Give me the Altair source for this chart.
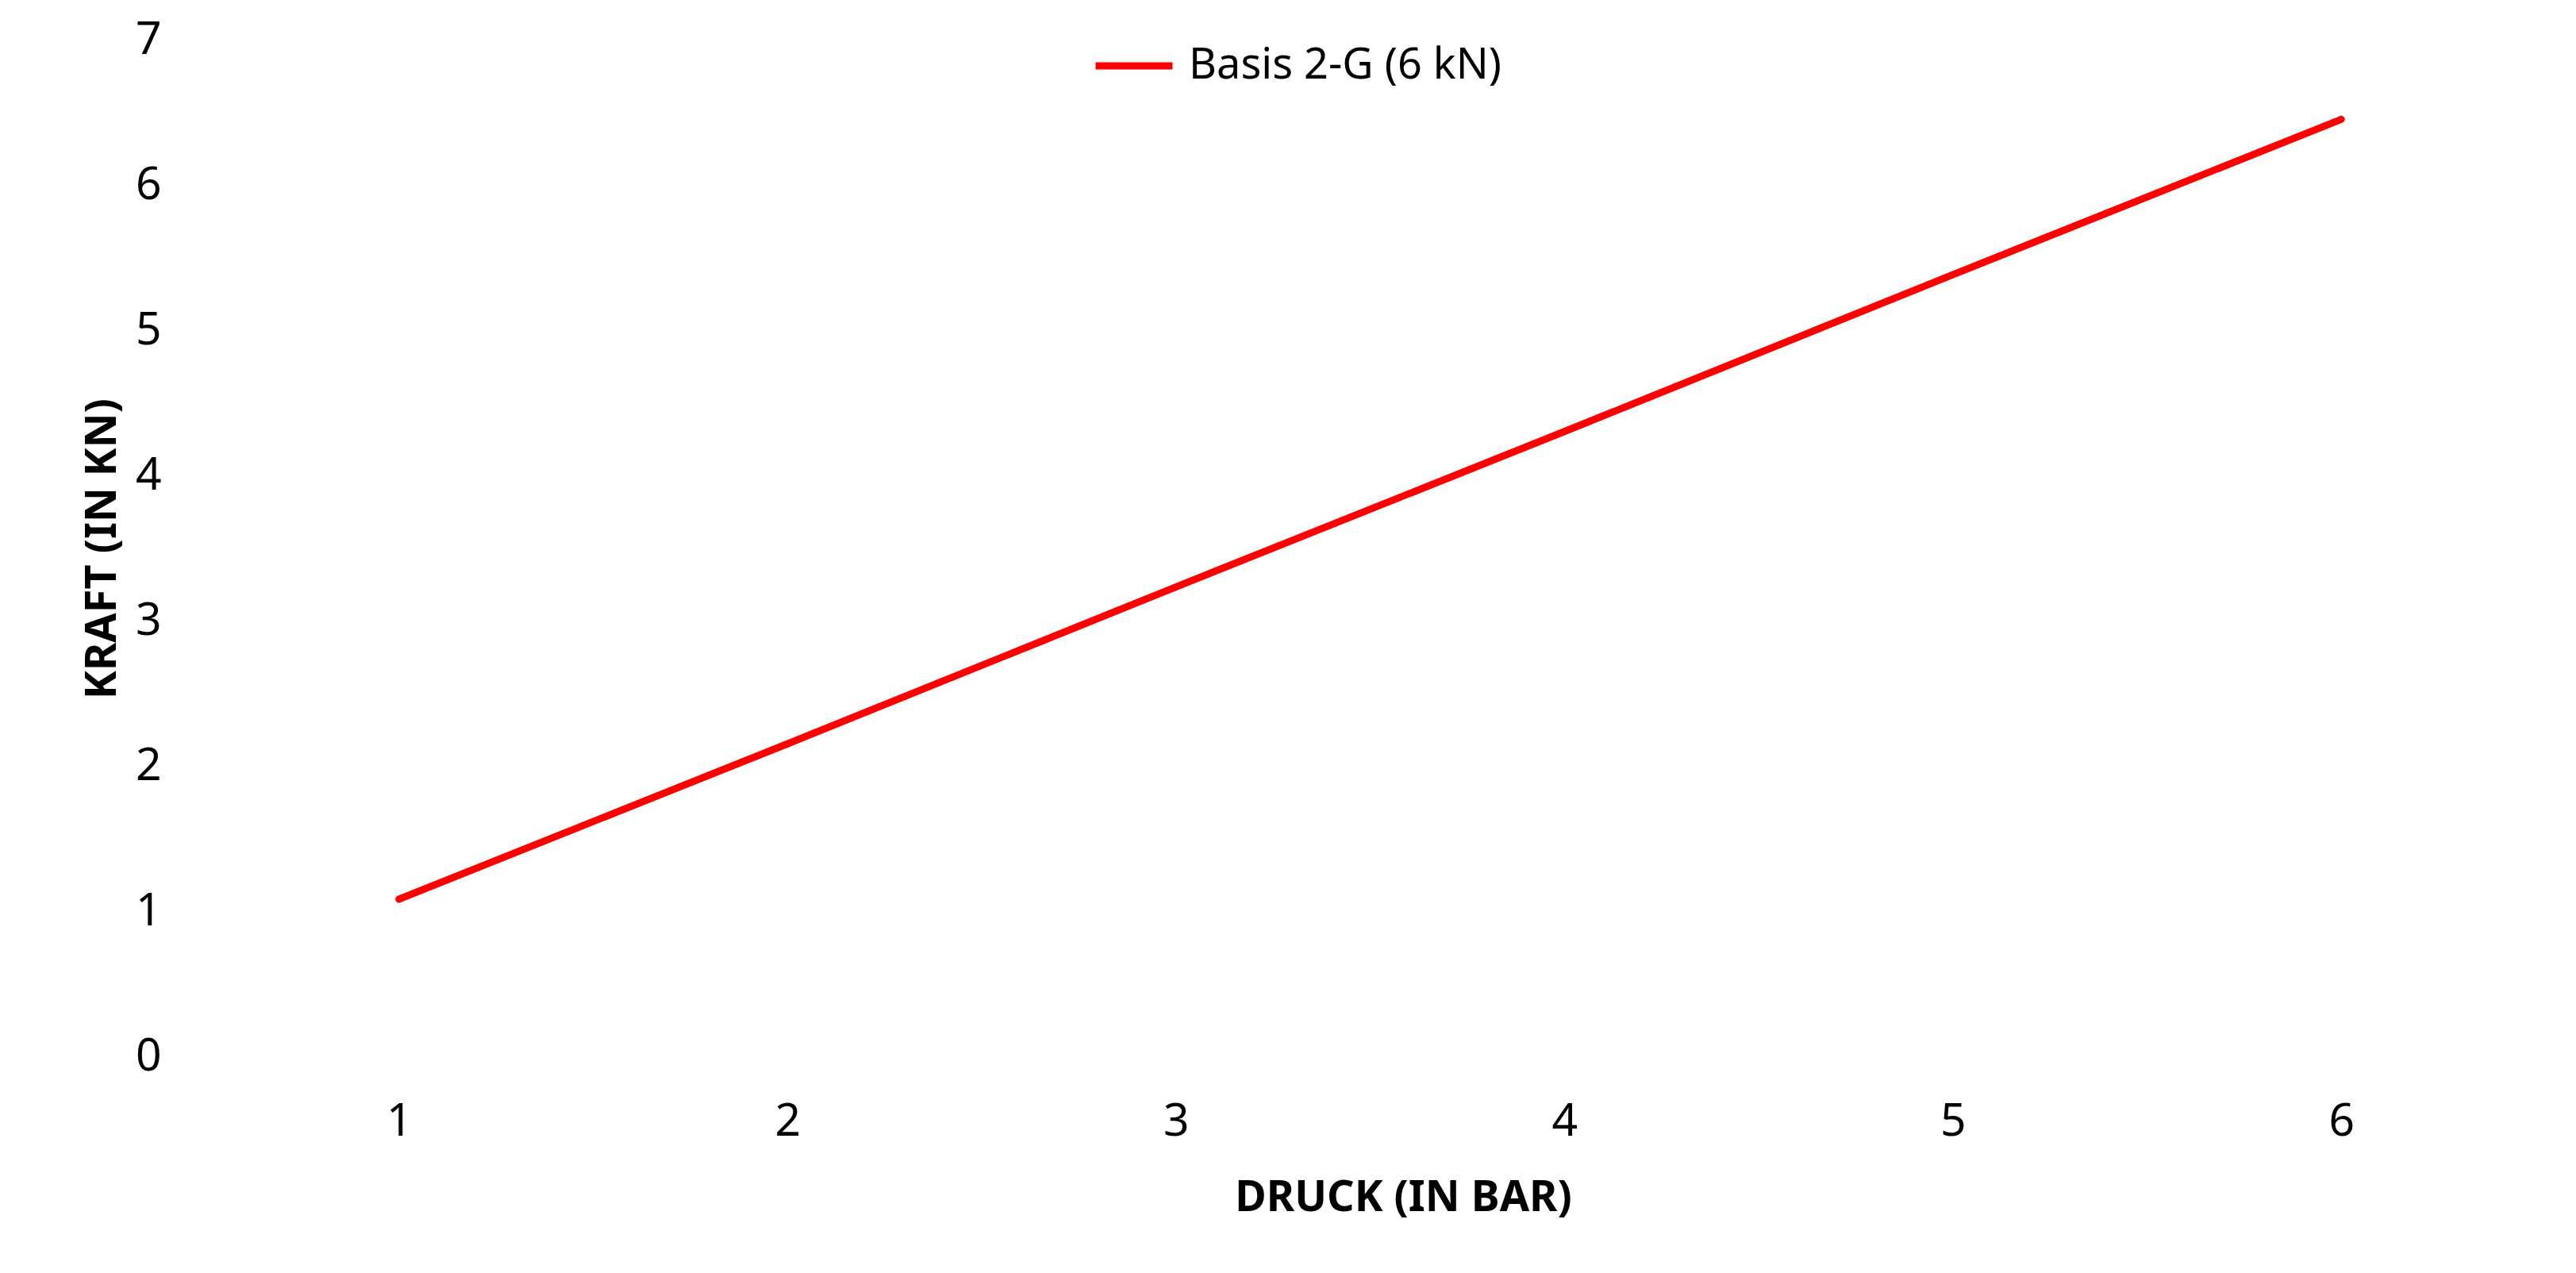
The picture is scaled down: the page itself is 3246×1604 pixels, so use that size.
import pandas as pd
import altair as alt

# Werte
druck = [1, 2, 3, 4, 5, 6]
kraft = [1.06, 2.13, 3.21, 4.28, 5.36, 6.43]
serie = "Basis 2-G (6 kN)"

df = pd.DataFrame({"druck": druck, "kraft": kraft, "serie": serie})

FONT = "Noto Sans"

chart = alt.Chart(df).mark_line(strokeWidth=9, strokeCap="round", strokeJoin="round").encode(
    x=alt.X("druck:Q",
            scale=alt.Scale(domain=[0.5, 6.5], nice=False, zero=False),
            axis=alt.Axis(title="DRUCK (IN BAR)", values=druck, format="d",
                          grid=False, domain=False, ticks=False, tickSize=0,
                          labelPadding=58, labelFontSize=57, labelFont=FONT,
                          labelColor="#000000",
                          titleFont=FONT, titleFontSize=54, titleFontWeight="bold",
                          titleColor="#000000", titleX=1510, titleY=198,
                          titleBaseline="alphabetic")),
    y=alt.Y("kraft:Q",
            scale=alt.Scale(domain=[0, 7], nice=False),
            axis=alt.Axis(title="KRAFT (IN KN)", values=[0, 1, 2, 3, 4, 5, 6, 7],
                          grid=False, domain=False, ticks=False, tickSize=0,
                          labelPadding=55, labelFontSize=57, labelFont=FONT,
                          labelColor="#000000", labelOffset=4,
                          titleFont=FONT, titleFontSize=54, titleFontWeight="bold",
                          titleColor="#000000", titleX=-113, titleY=645,
                          titleAngle=-90, titleBaseline="alphabetic")),
    color=alt.Color("serie:N",
                    scale=alt.Scale(domain=[serie], range=["#FF0000"]),
                    legend=alt.Legend(title=None, orient="none", legendX=1118, legendY=-16,
                                      direction="horizontal", symbolType="stroke",
                                      symbolSize=9400, symbolStrokeWidth=9,
                                      labelFont=FONT, labelFontSize=54, labelLimit=1000,
                                      labelColor="#000000", labelOffset=16, padding=0)),
).properties(
    width=2937,
    height=1281,
    autosize=alt.AutoSizeParams(type="none"),
    padding={"left": 250, "top": 38, "right": 35, "bottom": 250},
).configure_view(
    strokeWidth=0
)

chart.save("out.html", embed_options={"renderer": "svg", "actions": False})
